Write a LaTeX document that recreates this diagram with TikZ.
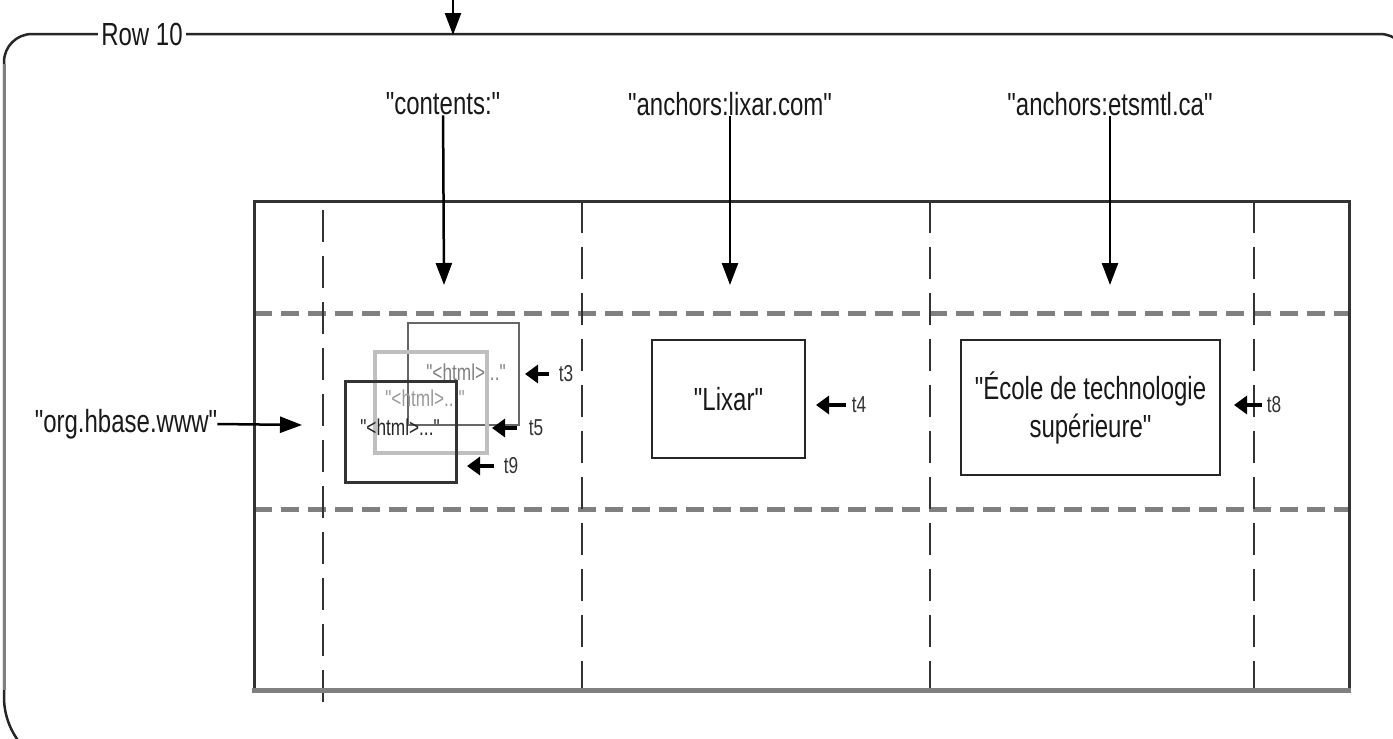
\documentclass[tikz,border=0pt]{standalone}
\usepackage{fontspec}
\setmainfont{Liberation Sans}[FakeStretch=0.75, Ligatures=TeXOff]
\usetikzlibrary{arrows.meta}
\begin{document}
\begin{tikzpicture}[x=1pt,y=-1pt,
  lbl/.style={font=\fontsize{32}{34}\selectfont, inner sep=0pt, text=black!90},
  tlbl/.style={font=\fontsize{23}{24}\selectfont, inner sep=0pt, text=black!80},
  hbox/.style={font=\fontsize{23}{25}\selectfont, inner sep=0pt},
  arr/.style={line width=2.5pt, -{Triangle[length=22pt,width=16pt]}},
  sarr/.style={line width=3.5pt, -{Triangle[length=13pt,width=18pt]}},
  vdash/.style={line width=2.5pt, draw=black!80, dash pattern=on 32pt off 14pt},
  hdash/.style={line width=5pt, draw=black!50, dash pattern=on 18pt off 9pt},
  valbox/.style={draw=black!85, line width=2.5pt, inner sep=0pt, align=center},
  frame/.style={line width=2.5pt, draw=black!85},
]
\useasboundingbox (0,0) rectangle (1393,739);
\clip (0,0) rectangle (1393,739);

% outer row frame
\draw[frame, rounded corners=28pt] (4,400) -- (4,34) -- (1408,34) -- (1408,400);
\draw[frame, rounded corners=74pt] (4,400) -- (4,771) -- (700,771);
\draw[line width=3pt, draw=black!50] (4,64) -- (4,690);
\node[lbl, fill=white, inner xsep=3pt, inner ysep=2pt] (row) at (142,34) {Row 10};
\coordinate (topin) at (453,-5);
\coordinate (toptip) at (453,35);
\draw[arr] (topin) -- (toptip);

% table
\draw[hdash] (254,313) -- (1349,313);
\draw[hdash] (254,509) -- (1349,509);
\draw[vdash] (323,210) -- (323,708);
\draw[vdash] (582,201) -- (582,690);
\draw[vdash] (930,201) -- (930,690);
\draw[vdash] (1254,201) -- (1254,690);
\draw[line width=3pt, draw=black!80] (254,201) rectangle (1349,690);
\draw[line width=5pt, draw=black!50] (252,690) -- (1351,690);

% column headers
\node[lbl] (hcont) at (443,104) {"contents:"};
\node[lbl] (hlix) at (730,104) {"anchors:lixar.com"};
\node[lbl] (hets) at (1110,104) {"anchors:etsmtl.ca"};
\coordinate (ccont) at (444,285);
\coordinate (clix) at (730,285);
\coordinate (cets) at (1110,285);
\draw[arr] (hcont) -- (ccont);
\draw[arr] (hlix) -- (clix);
\draw[arr] (hets) -- (cets);

% row key
\node[lbl] (org) at (126,424) {"org.hbase.www"};
\coordinate (orgtip) at (302,425);
\draw[arr] (org.east) -- (orgtip);

% contents versions
\node[hbox, draw=black!60, line width=2pt, minimum width=111pt, minimum height=102pt] (b1) at (463.5,374) {};
\node[hbox, text=black!50] (b1t) at (466,372) {"<html>..."};
\node[hbox, draw=black!25, line width=4pt, minimum width=112pt, minimum height=101pt] (b2) at (431,402.5) {};
\node[hbox, text=black!40] (b2t) at (425,398) {"<html>..."};
\node[hbox, draw=black!80, line width=3pt, minimum width=111pt, minimum height=101pt] (b3) at (400.5,431.5) {};
\node[hbox, text=black!85] (b3t) at (400,427) {"<html>..."};

\node[tlbl] (t3) at (566,374) {t3};
\coordinate (t3s) at (549,374);
\coordinate (t3e) at (525,374);
\draw[sarr] (t3s) -- (t3e);
\node[tlbl] (t5) at (536,428) {t5};
\coordinate (t5s) at (517,428);
\coordinate (t5e) at (492,428);
\draw[sarr] (t5s) -- (t5e);
\node[tlbl] (t9) at (511,466) {t9};
\coordinate (t9s) at (494,466);
\coordinate (t9e) at (467,466);
\draw[sarr] (t9s) -- (t9e);

% lixar
\node[valbox, minimum width=153pt, minimum height=118pt, font=\fontsize{32}{34}\selectfont, text=black!90] (lix) at (728.5,399) {"Lixar"};
\node[tlbl] (t4) at (859,405) {t4};
\coordinate (t4s) at (846,405);
\coordinate (t4e) at (816,405);
\draw[sarr] (t4s) -- (t4e);

% ets
\node[valbox, minimum width=259pt, minimum height=135pt, font=\fontsize{32}{38}\selectfont, text=black!90] (ets) at (1090.5,407.5) {"École de technologie\\supérieure"};
\node[tlbl] (t8) at (1274,405) {t8};
\coordinate (t8s) at (1262,405);
\coordinate (t8e) at (1234,405);
\draw[sarr] (t8s) -- (t8e);
\end{tikzpicture}
\end{document}
